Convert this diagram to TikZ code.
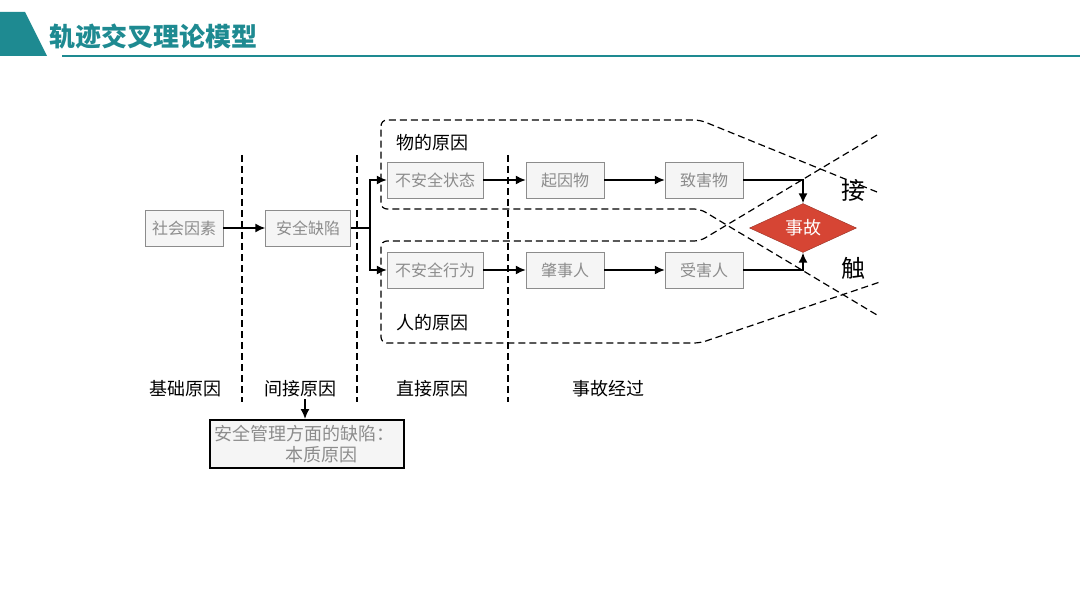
\documentclass[tikz,border=0pt]{standalone}
\usepackage{fontspec}
\setmainfont{Noto Sans CJK SC}
\usetikzlibrary{shapes.geometric,arrows.meta}
\definecolor{teal1}{RGB}{30,138,145}
\definecolor{red1}{RGB}{214,69,52}
\definecolor{gray1}{RGB}{140,140,140}
\tikzset{
    BX1/.style ={rectangle,minimum width = 78pt, minimum height = 36pt, inner sep=0pt, draw=gray1, fill=black!4, text=gray1, font=\fontsize{16}{18}\selectfont},
    BX2/.style ={BX1, minimum width = 96pt},
    DM1/.style ={diamond, aspect=2.2, minimum width = 107pt, minimum height = 49pt, inner sep=0pt, draw=red1!70!black, fill=red1, text=white, font=\fontsize{18}{20}\selectfont},
    LB1/.style ={font=\fontsize{18}{20}\selectfont},
    LB2/.style ={font=\fontsize{24}{26}\selectfont},
    AR/.style ={line width=1.6pt, -{Latex[length=10pt,width=9pt]}},
    LN/.style ={line width=1.6pt},
    DS/.style ={line width=1.2pt, dash pattern=on 7pt off 4pt}}
\begin{document}
\begin{tikzpicture}[x=1pt,y=-1pt]
        \useasboundingbox (0,0) rectangle (1080,607);
        \fill[teal1] (0,12) -- (25,12) -- (47,56) -- (0,56) -- cycle;
        \draw[teal1, line width=2pt] (62,56) -- (1080,56);
        \node[text=teal1, font=\fontsize{26}{28}\selectfont\bfseries] (t) at (153,37){轨迹交叉理论模型};
        \draw[DS] (242,155) -- (242,402);
        \draw[DS] (357,155) -- (357,402);
        \draw[DS] (508,155) -- (508,402);
        \draw[DS, rounded corners=6pt] (877,192) -- (700,120) -- (381,120) -- (381,209) -- (700,209) -- (877,315);
        \draw[DS, rounded corners=6pt] (877,135) -- (700,241) -- (381,241) -- (381,343) -- (700,343) -- (880,282);
        \node[BX1] (1) at (184,228){社会因素};
        \node[BX1, minimum width=85pt] (2) at (308,228){安全缺陷};
        \node[BX2] (3) at (435,180){不安全状态};
        \node[BX1] (4) at (565,180){起因物};
        \node[BX1] (5) at (704,180){致害物};
        \node[BX2] (6) at (435,270){不安全行为};
        \node[BX1] (7) at (565,270){肇事人};
        \node[BX1] (8) at (704,270){受害人};
        \node[DM1] (9) at (803,228){事故};
        \coordinate (j) at (370,228);
        \draw[AR] (1) -- (2);
        \draw[LN] (2) -- (j);
        \draw[AR] (j) |- (3);
        \draw[AR] (j) |- (6);
        \draw[AR] (3) -- (4);
        \draw[AR] (4) -- (5);
        \draw[AR] (6) -- (7);
        \draw[AR] (7) -- (8);
        \draw[AR] (5) -| (9.north);
        \draw[AR] (8) -| (9.south);
        \node[LB1] (w) at (432,143){物的原因};
        \node[LB1] (r) at (432,323){人的原因};
        \node[LB2] (k1) at (853,190){接};
        \node[LB2] (k2) at (853,268){触};
        \node[LB1] (b1) at (185,389){基础原因};
        \node[LB1] (b2) at (300,389){间接原因};
        \node[LB1] (b3) at (432,389){直接原因};
        \node[LB1] (b4) at (608,389){事故经过};
        \node[rectangle, minimum width=194pt, minimum height=48pt, inner sep=1pt, draw, line width=2pt, fill=black!4, text=gray1, align=left, font=\fontsize{18}{21}\selectfont] (10) at (307,444){\hspace*{-5pt}安全管理方面的缺陷：\\\hspace*{66pt}本质原因};
        \coordinate (c) at (305,399);
        \draw[AR] (c) -- (c |- 10.north);
    \end{tikzpicture}
\end{document}
